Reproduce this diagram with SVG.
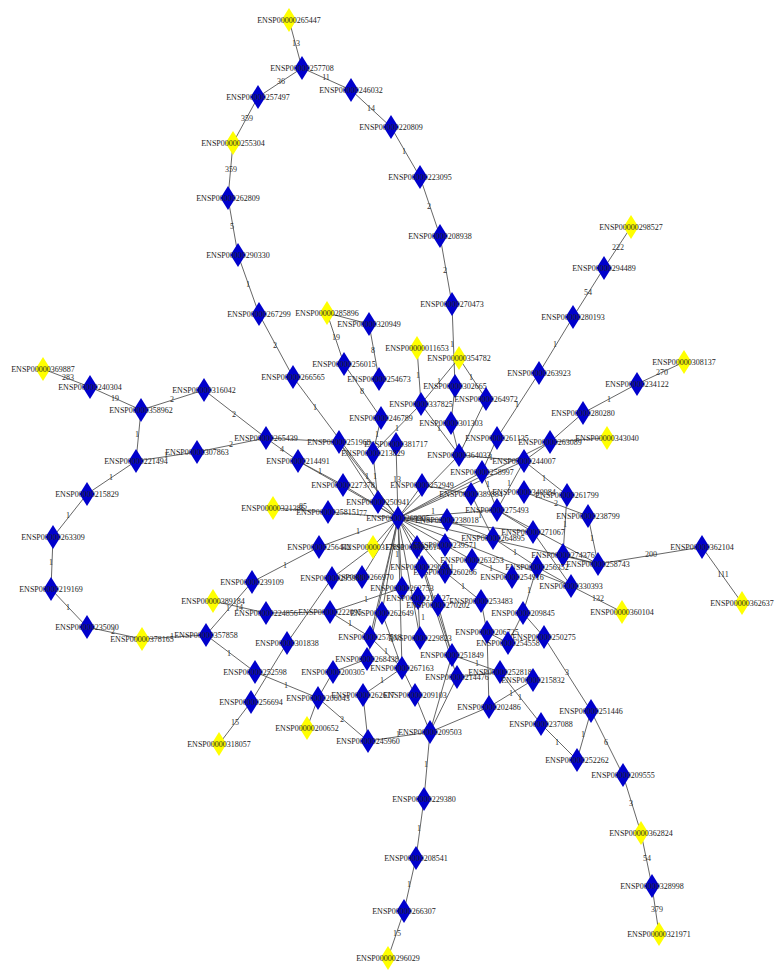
<svg xmlns="http://www.w3.org/2000/svg" xmlns:xlink="http://www.w3.org/1999/xlink" width="778" height="979" viewBox="0 0 778 979">
<style>
.e line{stroke:#555;stroke-width:0.9}
.el{font-family:"Liberation Serif",serif;font-size:8px;fill:#333;text-anchor:middle}
.b{fill:#0000cc}
.y{fill:#ffff00}
.n text{font-family:"Liberation Serif",serif;font-size:8px;fill:#222;text-anchor:middle}
</style>
<defs><path id="d" d="M0 -12L7.5 0L0 12L-7.5 0Z"/></defs>
<rect width="778" height="979" fill="#fff"/>
<g id="connectors" class="e">
<line x1="289" y1="20" x2="302" y2="68"/><line x1="302" y1="68" x2="258" y2="97"/><line x1="302" y1="68" x2="351" y2="90"/>
<line x1="258" y1="97" x2="233" y2="143"/><line x1="233" y1="143" x2="228" y2="198"/><line x1="228" y1="198" x2="238" y2="255"/>
<line x1="238" y1="255" x2="259" y2="314"/><line x1="259" y1="314" x2="293" y2="377"/><line x1="293" y1="377" x2="398" y2="518"/>
<line x1="351" y1="90" x2="391" y2="127"/><line x1="391" y1="127" x2="420" y2="177"/><line x1="420" y1="177" x2="440" y2="236"/>
<line x1="440" y1="236" x2="452" y2="304"/><line x1="452" y1="304" x2="455" y2="386"/><line x1="459" y1="358" x2="421" y2="404"/>
<line x1="459" y1="358" x2="486" y2="399"/><line x1="417" y1="348" x2="421" y2="404"/><line x1="327" y1="313" x2="369" y2="324"/>
<line x1="327" y1="313" x2="344" y2="364"/><line x1="344" y1="364" x2="381" y2="418"/><line x1="369" y1="324" x2="379" y2="379"/>
<line x1="631" y1="227" x2="604" y2="268"/><line x1="604" y1="268" x2="573" y2="317"/><line x1="573" y1="317" x2="539" y2="373"/>
<line x1="539" y1="373" x2="497" y2="438"/><line x1="684" y1="362" x2="637" y2="384"/><line x1="637" y1="384" x2="583" y2="413"/>
<line x1="583" y1="413" x2="550" y2="442"/><line x1="550" y1="442" x2="607" y2="438"/><line x1="43" y1="369" x2="90" y2="387"/>
<line x1="90" y1="387" x2="141" y2="410"/><line x1="141" y1="410" x2="204" y2="390"/><line x1="204" y1="390" x2="266" y2="438"/>
<line x1="141" y1="410" x2="136" y2="461"/><line x1="136" y1="461" x2="197" y2="452"/><line x1="197" y1="452" x2="266" y2="438"/>
<line x1="266" y1="438" x2="298" y2="461"/><line x1="266" y1="438" x2="339" y2="442"/><line x1="136" y1="461" x2="87" y2="494"/>
<line x1="87" y1="494" x2="53" y2="537"/><line x1="53" y1="537" x2="51" y2="589"/><line x1="51" y1="589" x2="87" y2="627"/>
<line x1="87" y1="627" x2="142" y2="639"/><line x1="142" y1="639" x2="206" y2="635"/><line x1="206" y1="635" x2="252" y2="582"/>
<line x1="213" y1="601" x2="266" y2="613"/><line x1="206" y1="635" x2="255" y2="672"/><line x1="255" y1="672" x2="318" y2="698"/>
<line x1="251" y1="702" x2="219" y2="744"/><line x1="251" y1="702" x2="287" y2="643"/><line x1="287" y1="643" x2="332" y2="578"/>
<line x1="252" y1="582" x2="319" y2="547"/><line x1="702" y1="547" x2="598" y2="564"/><line x1="702" y1="547" x2="742" y2="603"/>
<line x1="571" y1="586" x2="622" y2="612"/><line x1="588" y1="516" x2="598" y2="564"/><line x1="567" y1="495" x2="563" y2="555"/>
<line x1="567" y1="495" x2="524" y2="461"/><line x1="544" y1="637" x2="591" y2="711"/><line x1="591" y1="711" x2="577" y2="760"/>
<line x1="591" y1="711" x2="623" y2="775"/><line x1="541" y1="724" x2="577" y2="760"/><line x1="623" y1="775" x2="641" y2="833"/>
<line x1="641" y1="833" x2="652" y2="886"/><line x1="652" y1="886" x2="659" y2="934"/><line x1="430" y1="732" x2="368" y2="741"/>
<line x1="430" y1="732" x2="424" y2="799"/><line x1="424" y1="799" x2="416" y2="858"/><line x1="416" y1="858" x2="404" y2="911"/>
<line x1="404" y1="911" x2="388" y2="958"/><line x1="318" y1="698" x2="368" y2="741"/><line x1="307" y1="728" x2="318" y2="698"/>
<line x1="381" y1="418" x2="373" y2="453"/><line x1="421" y1="404" x2="373" y2="453"/><line x1="421" y1="404" x2="459" y2="455"/>
<line x1="455" y1="386" x2="451" y2="423"/><line x1="451" y1="423" x2="459" y2="455"/><line x1="486" y1="399" x2="459" y2="455"/>
<line x1="459" y1="455" x2="524" y2="461"/><line x1="550" y1="442" x2="524" y2="461"/><line x1="524" y1="461" x2="497" y2="510"/>
<line x1="482" y1="472" x2="497" y2="510"/><line x1="524" y1="492" x2="588" y2="516"/><line x1="471" y1="494" x2="493" y2="538"/>
<line x1="493" y1="538" x2="537" y2="567"/><line x1="472" y1="560" x2="512" y2="577"/><line x1="497" y1="510" x2="533" y2="532"/>
<line x1="533" y1="532" x2="571" y2="586"/><line x1="497" y1="510" x2="598" y2="564"/><line x1="537" y1="567" x2="571" y2="586"/>
<line x1="563" y1="555" x2="598" y2="564"/><line x1="445" y1="572" x2="481" y2="601"/><line x1="537" y1="567" x2="523" y2="613"/>
<line x1="523" y1="613" x2="544" y2="637"/><line x1="523" y1="613" x2="508" y2="643"/><line x1="481" y1="601" x2="487" y2="632"/>
<line x1="487" y1="632" x2="508" y2="643"/><line x1="487" y1="632" x2="489" y2="707"/><line x1="452" y1="655" x2="500" y2="672"/>
<line x1="533" y1="680" x2="489" y2="707"/><line x1="500" y1="672" x2="541" y2="724"/><line x1="457" y1="677" x2="500" y2="672"/>
<line x1="452" y1="655" x2="430" y2="732"/><line x1="457" y1="677" x2="430" y2="732"/><line x1="415" y1="695" x2="430" y2="732"/>
<line x1="489" y1="707" x2="430" y2="732"/><line x1="402" y1="668" x2="415" y2="695"/><line x1="370" y1="637" x2="402" y2="668"/>
<line x1="382" y1="613" x2="402" y2="668"/><line x1="402" y1="668" x2="363" y2="695"/><line x1="330" y1="612" x2="402" y2="588"/>
<line x1="330" y1="612" x2="370" y2="637"/><line x1="418" y1="598" x2="420" y2="638"/><line x1="398" y1="518" x2="402" y2="588"/>
<line x1="318" y1="698" x2="333" y2="672"/><line x1="333" y1="672" x2="367" y2="659"/><line x1="363" y1="695" x2="368" y2="741"/>
<line x1="266" y1="613" x2="330" y2="612"/><line x1="398" y1="518" x2="339" y2="442"/><line x1="398" y1="518" x2="298" y2="461"/>
<line x1="398" y1="518" x2="343" y2="485"/><line x1="398" y1="518" x2="378" y2="502"/><line x1="398" y1="518" x2="396" y2="444"/>
<line x1="373" y1="453" x2="378" y2="502"/><line x1="339" y1="442" x2="378" y2="502"/><line x1="398" y1="518" x2="328" y2="512"/>
<line x1="273" y1="508" x2="328" y2="512"/><line x1="298" y1="461" x2="343" y2="485"/><line x1="398" y1="518" x2="319" y2="547"/>
<line x1="398" y1="518" x2="459" y2="455"/><line x1="398" y1="518" x2="482" y2="472"/><line x1="398" y1="518" x2="524" y2="461"/>
<line x1="398" y1="518" x2="550" y2="442"/><line x1="398" y1="518" x2="497" y2="510"/><line x1="398" y1="518" x2="598" y2="564"/>
<line x1="398" y1="518" x2="571" y2="586"/><line x1="398" y1="518" x2="533" y2="532"/><line x1="398" y1="518" x2="447" y2="520"/>
<line x1="398" y1="518" x2="445" y2="545"/><line x1="398" y1="518" x2="445" y2="572"/><line x1="398" y1="518" x2="382" y2="613"/>
<line x1="398" y1="518" x2="370" y2="637"/><line x1="398" y1="518" x2="367" y2="659"/><line x1="398" y1="518" x2="402" y2="668"/>
<line x1="398" y1="518" x2="420" y2="638"/><line x1="398" y1="518" x2="422" y2="567"/><line x1="398" y1="518" x2="362" y2="577"/>
<line x1="398" y1="518" x2="373" y2="547"/><line x1="398" y1="518" x2="417" y2="547"/><line x1="398" y1="518" x2="422" y2="485"/>
<line x1="447" y1="520" x2="493" y2="538"/><line x1="445" y1="545" x2="472" y2="560"/><line x1="422" y1="485" x2="471" y2="494"/>
<line x1="417" y1="547" x2="452" y2="655"/><line x1="422" y1="567" x2="457" y2="677"/><line x1="438" y1="605" x2="452" y2="655"/>
<line x1="373" y1="547" x2="332" y2="578"/><line x1="497" y1="438" x2="482" y2="472"/>
<text class="el" x="296" y="46">13</text><text class="el" x="281" y="84">36</text><text class="el" x="326" y="80">11</text>
<text class="el" x="247" y="121">359</text><text class="el" x="231" y="172">359</text><text class="el" x="232" y="229">5</text>
<text class="el" x="248" y="287">1</text><text class="el" x="275" y="348">2</text><text class="el" x="315" y="410">1</text>
<text class="el" x="371" y="111">14</text><text class="el" x="404" y="154">1</text><text class="el" x="429" y="209">2</text>
<text class="el" x="445" y="273">2</text><text class="el" x="452" y="347">1</text><text class="el" x="439" y="384">1</text>
<text class="el" x="471" y="380">1</text><text class="el" x="418" y="378">1</text><text class="el" x="336" y="340">19</text>
<text class="el" x="362" y="394">8</text><text class="el" x="373" y="353">8</text><text class="el" x="618" y="250">222</text>
<text class="el" x="588" y="295">54</text><text class="el" x="555" y="347">1</text><text class="el" x="517" y="407">1</text>
<text class="el" x="662" y="375">270</text><text class="el" x="609" y="402">1</text><text class="el" x="68" y="380">283</text>
<text class="el" x="115" y="401">19</text><text class="el" x="172" y="402">2</text><text class="el" x="234" y="417">2</text>
<text class="el" x="137" y="437">1</text><text class="el" x="166" y="458">1</text><text class="el" x="231" y="447">2</text>
<text class="el" x="282" y="452">4</text><text class="el" x="111" y="480">1</text><text class="el" x="68" y="518">1</text>
<text class="el" x="51" y="565">1</text><text class="el" x="68" y="610">1</text><text class="el" x="113" y="634">2</text>
<text class="el" x="172" y="639">1</text><text class="el" x="228" y="611">1</text><text class="el" x="239" y="610">14</text>
<text class="el" x="229" y="656">1</text><text class="el" x="286" y="688">1</text><text class="el" x="235" y="725">15</text>
<text class="el" x="285" y="568">1</text><text class="el" x="651" y="557">200</text><text class="el" x="723" y="577">111</text>
<text class="el" x="598" y="601">132</text><text class="el" x="592" y="541">1</text><text class="el" x="565" y="527">1</text>
<text class="el" x="544" y="481">1</text><text class="el" x="567" y="675">3</text><text class="el" x="583" y="737">1</text>
<text class="el" x="606" y="745">6</text><text class="el" x="557" y="745">1</text><text class="el" x="631" y="806">3</text>
<text class="el" x="647" y="861">54</text><text class="el" x="657" y="912">379</text><text class="el" x="398" y="737">1</text>
<text class="el" x="426" y="767">1</text><text class="el" x="419" y="831">1</text><text class="el" x="409" y="887">1</text>
<text class="el" x="397" y="936">15</text><text class="el" x="342" y="722">2</text>
<text class="el" x="377" y="437">1</text><text class="el" x="397" y="431">1</text><text class="el" x="439" y="431">1</text>
<text class="el" x="491" y="460">1</text><text class="el" x="509" y="486">1</text><text class="el" x="488" y="487">1</text>
<text class="el" x="556" y="506">2</text><text class="el" x="480" y="518">1</text><text class="el" x="515" y="555">1</text>
<text class="el" x="491" y="571">1</text><text class="el" x="463" y="589">1</text><text class="el" x="529" y="593">1</text>
<text class="el" x="477" y="666">1</text><text class="el" x="511" y="696">1</text><text class="el" x="520" y="700">1</text>
<text class="el" x="386" y="654">1</text><text class="el" x="392" y="642">1</text><text class="el" x="382" y="683">1</text>
<text class="el" x="366" y="602">1</text><text class="el" x="350" y="626">1</text><text class="el" x="423" y="620">1</text>
<text class="el" x="397" y="557">1</text><text class="el" x="397" y="482">13</text><text class="el" x="375" y="479">1</text>
<text class="el" x="367" y="479">1</text><text class="el" x="363" y="516">77</text><text class="el" x="303" y="509">85</text>
<text class="el" x="320" y="474">1</text><text class="el" x="358" y="534">1</text><text class="el" x="433" y="514">1</text>
</g>
<g class="n">
<g id="n265447"><use xlink:href="#d" x="289" y="20" class="y"/><text x="289" y="23">ENSP00000265447</text></g>
<g id="n257708"><use xlink:href="#d" x="302" y="68" class="b"/><text x="302" y="71">ENSP00000257708</text></g>
<g id="n246032"><use xlink:href="#d" x="351" y="90" class="b"/><text x="351" y="93">ENSP00000246032</text></g>
<g id="n257497"><use xlink:href="#d" x="258" y="97" class="b"/><text x="258" y="100">ENSP00000257497</text></g>
<g id="n220809"><use xlink:href="#d" x="391" y="127" class="b"/><text x="391" y="130">ENSP00000220809</text></g>
<g id="n255304"><use xlink:href="#d" x="233" y="143" class="y"/><text x="233" y="146">ENSP00000255304</text></g>
<g id="n223095"><use xlink:href="#d" x="420" y="177" class="b"/><text x="420" y="180">ENSP00000223095</text></g>
<g id="n262809"><use xlink:href="#d" x="228" y="198" class="b"/><text x="228" y="201">ENSP00000262809</text></g>
<g id="n208938"><use xlink:href="#d" x="440" y="236" class="b"/><text x="440" y="239">ENSP00000208938</text></g>
<g id="n298527"><use xlink:href="#d" x="631" y="227" class="y"/><text x="631" y="230">ENSP00000298527</text></g>
<g id="n290330"><use xlink:href="#d" x="238" y="255" class="b"/><text x="238" y="258">ENSP00000290330</text></g>
<g id="n294489"><use xlink:href="#d" x="604" y="268" class="b"/><text x="604" y="271">ENSP00000294489</text></g>
<g id="n270473"><use xlink:href="#d" x="452" y="304" class="b"/><text x="452" y="307">ENSP00000270473</text></g>
<g id="n267299"><use xlink:href="#d" x="259" y="314" class="b"/><text x="259" y="317">ENSP00000267299</text></g>
<g id="n285896"><use xlink:href="#d" x="327" y="313" class="y"/><text x="327" y="316">ENSP00000285896</text></g>
<g id="n320949"><use xlink:href="#d" x="369" y="324" class="b"/><text x="369" y="327">ENSP00000320949</text></g>
<g id="n280193"><use xlink:href="#d" x="573" y="317" class="b"/><text x="573" y="320">ENSP00000280193</text></g>
<g id="n011653"><use xlink:href="#d" x="417" y="348" class="y"/><text x="417" y="351">ENSP00000011653</text></g>
<g id="n354782"><use xlink:href="#d" x="459" y="358" class="y"/><text x="459" y="361">ENSP00000354782</text></g>
<g id="n308137"><use xlink:href="#d" x="684" y="362" class="y"/><text x="684" y="365">ENSP00000308137</text></g>
<g id="n369887"><use xlink:href="#d" x="43" y="369" class="y"/><text x="43" y="372">ENSP00000369887</text></g>
<g id="n256015"><use xlink:href="#d" x="344" y="364" class="b"/><text x="344" y="367">ENSP00000256015</text></g>
<g id="n263923"><use xlink:href="#d" x="539" y="373" class="b"/><text x="539" y="376">ENSP00000263923</text></g>
<g id="n266565"><use xlink:href="#d" x="293" y="377" class="b"/><text x="293" y="380">ENSP00000266565</text></g>
<g id="n254673"><use xlink:href="#d" x="379" y="379" class="b"/><text x="379" y="382">ENSP00000254673</text></g>
<g id="n234122"><use xlink:href="#d" x="637" y="384" class="b"/><text x="637" y="387">ENSP00000234122</text></g>
<g id="n240304"><use xlink:href="#d" x="90" y="387" class="b"/><text x="90" y="390">ENSP00000240304</text></g>
<g id="n316042"><use xlink:href="#d" x="204" y="390" class="b"/><text x="204" y="393">ENSP00000316042</text></g>
<g id="n302665"><use xlink:href="#d" x="455" y="386" class="b"/><text x="455" y="389">ENSP00000302665</text></g>
<g id="n264972"><use xlink:href="#d" x="486" y="399" class="b"/><text x="486" y="402">ENSP00000264972</text></g>
<g id="n337825"><use xlink:href="#d" x="421" y="404" class="b"/><text x="421" y="407">ENSP00000337825</text></g>
<g id="n358962"><use xlink:href="#d" x="141" y="410" class="b"/><text x="141" y="413">ENSP00000358962</text></g>
<g id="n280280"><use xlink:href="#d" x="583" y="413" class="b"/><text x="583" y="416">ENSP00000280280</text></g>
<g id="n246789"><use xlink:href="#d" x="381" y="418" class="b"/><text x="381" y="421">ENSP00000246789</text></g>
<g id="n301303"><use xlink:href="#d" x="451" y="423" class="b"/><text x="451" y="426">ENSP00000301303</text></g>
<g id="n343040"><use xlink:href="#d" x="607" y="438" class="y"/><text x="607" y="441">ENSP00000343040</text></g>
<g id="n265439"><use xlink:href="#d" x="266" y="438" class="b"/><text x="266" y="441">ENSP00000265439</text></g>
<g id="n251968"><use xlink:href="#d" x="339" y="442" class="b"/><text x="339" y="445">ENSP00000251968</text></g>
<g id="n381717"><use xlink:href="#d" x="396" y="444" class="b"/><text x="396" y="447">ENSP00000381717</text></g>
<g id="n261135"><use xlink:href="#d" x="497" y="438" class="b"/><text x="497" y="441">ENSP00000261135</text></g>
<g id="n263089"><use xlink:href="#d" x="550" y="442" class="b"/><text x="550" y="445">ENSP00000263089</text></g>
<g id="n307863"><use xlink:href="#d" x="197" y="452" class="b"/><text x="197" y="455">ENSP00000307863</text></g>
<g id="n214491"><use xlink:href="#d" x="298" y="461" class="b"/><text x="298" y="464">ENSP00000214491</text></g>
<g id="n221494"><use xlink:href="#d" x="136" y="461" class="b"/><text x="136" y="464">ENSP00000221494</text></g>
<g id="n213829"><use xlink:href="#d" x="373" y="453" class="b"/><text x="373" y="456">ENSP00000213829</text></g>
<g id="n364033"><use xlink:href="#d" x="459" y="455" class="b"/><text x="459" y="458">ENSP00000364033</text></g>
<g id="n244007"><use xlink:href="#d" x="524" y="461" class="b"/><text x="524" y="464">ENSP00000244007</text></g>
<g id="n258997"><use xlink:href="#d" x="482" y="472" class="b"/><text x="482" y="475">ENSP00000258997</text></g>
<g id="n227378"><use xlink:href="#d" x="343" y="485" class="b"/><text x="343" y="488">ENSP00000227378</text></g>
<g id="n252949"><use xlink:href="#d" x="422" y="485" class="b"/><text x="422" y="488">ENSP00000252949</text></g>
<g id="n215829"><use xlink:href="#d" x="87" y="494" class="b"/><text x="87" y="497">ENSP00000215829</text></g>
<g id="n261799"><use xlink:href="#d" x="567" y="495" class="b"/><text x="567" y="498">ENSP00000261799</text></g>
<g id="n340984"><use xlink:href="#d" x="524" y="492" class="b"/><text x="524" y="495">ENSP00000340984</text></g>
<g id="n389884"><use xlink:href="#d" x="471" y="494" class="b"/><text x="471" y="497">ENSP00000389884</text></g>
<g id="n250941"><use xlink:href="#d" x="378" y="502" class="b"/><text x="378" y="505">ENSP00000250941</text></g>
<g id="n275493"><use xlink:href="#d" x="497" y="510" class="b"/><text x="497" y="513">ENSP00000275493</text></g>
<g id="n238799"><use xlink:href="#d" x="588" y="516" class="b"/><text x="588" y="519">ENSP00000238799</text></g>
<g id="n321386"><use xlink:href="#d" x="273" y="508" class="y"/><text x="273" y="511">ENSP00000321386</text></g>
<g id="n258151"><use xlink:href="#d" x="328" y="512" class="b"/><text x="328" y="515">ENSP00000258151</text></g>
<g id="n269305"><use xlink:href="#d" x="398" y="518" class="b"/><text x="398" y="521">ENSP00000269305</text></g>
<g id="n238018"><use xlink:href="#d" x="447" y="520" class="b"/><text x="447" y="523">ENSP00000238018</text></g>
<g id="n271067"><use xlink:href="#d" x="533" y="532" class="b"/><text x="533" y="535">ENSP00000271067</text></g>
<g id="n264895"><use xlink:href="#d" x="493" y="538" class="b"/><text x="493" y="541">ENSP00000264895</text></g>
<g id="n263309"><use xlink:href="#d" x="53" y="537" class="b"/><text x="53" y="540">ENSP00000263309</text></g>
<g id="n256442"><use xlink:href="#d" x="319" y="547" class="b"/><text x="319" y="550">ENSP00000256442</text></g>
<g id="n317891"><use xlink:href="#d" x="373" y="547" class="y"/><text x="373" y="550">ENSP00000317891</text></g>
<g id="n261437"><use xlink:href="#d" x="417" y="547" class="b"/><text x="417" y="550">ENSP00000261437</text></g>
<g id="n239571"><use xlink:href="#d" x="445" y="545" class="b"/><text x="445" y="548">ENSP00000239571</text></g>
<g id="n274376"><use xlink:href="#d" x="563" y="555" class="b"/><text x="563" y="558">ENSP00000274376</text></g>
<g id="n263253"><use xlink:href="#d" x="472" y="560" class="b"/><text x="472" y="563">ENSP00000263253</text></g>
<g id="n258743"><use xlink:href="#d" x="598" y="564" class="b"/><text x="598" y="567">ENSP00000258743</text></g>
<g id="n362104"><use xlink:href="#d" x="702" y="547" class="b"/><text x="702" y="550">ENSP00000362104</text></g>
<g id="n260266"><use xlink:href="#d" x="445" y="572" class="b"/><text x="445" y="575">ENSP00000260266</text></g>
<g id="n256352"><use xlink:href="#d" x="537" y="567" class="b"/><text x="537" y="570">ENSP00000256352</text></g>
<g id="n254916"><use xlink:href="#d" x="512" y="577" class="b"/><text x="512" y="580">ENSP00000254916</text></g>
<g id="n330393"><use xlink:href="#d" x="571" y="586" class="b"/><text x="571" y="589">ENSP00000330393</text></g>
<g id="n290541"><use xlink:href="#d" x="422" y="567" class="b"/><text x="422" y="570">ENSP00000290541</text></g>
<g id="n266970"><use xlink:href="#d" x="362" y="577" class="b"/><text x="362" y="580">ENSP00000266970</text></g>
<g id="n295980"><use xlink:href="#d" x="332" y="578" class="b"/><text x="332" y="581">ENSP00000295980</text></g>
<g id="n239109"><use xlink:href="#d" x="252" y="582" class="b"/><text x="252" y="585">ENSP00000239109</text></g>
<g id="n219169"><use xlink:href="#d" x="51" y="589" class="b"/><text x="51" y="592">ENSP00000219169</text></g>
<g id="n262753"><use xlink:href="#d" x="402" y="588" class="b"/><text x="402" y="591">ENSP00000262753</text></g>
<g id="n219127"><use xlink:href="#d" x="418" y="598" class="b"/><text x="418" y="601">ENSP00000219127</text></g>
<g id="n270202"><use xlink:href="#d" x="438" y="605" class="b"/><text x="438" y="608">ENSP00000270202</text></g>
<g id="n253483"><use xlink:href="#d" x="481" y="601" class="b"/><text x="481" y="604">ENSP00000253483</text></g>
<g id="n389184"><use xlink:href="#d" x="213" y="601" class="y"/><text x="213" y="604">ENSP00000389184</text></g>
<g id="n360104"><use xlink:href="#d" x="622" y="612" class="y"/><text x="622" y="615">ENSP00000360104</text></g>
<g id="n362637"><use xlink:href="#d" x="742" y="603" class="y"/><text x="742" y="606">ENSP00000362637</text></g>
<g id="n235090"><use xlink:href="#d" x="87" y="627" class="b"/><text x="87" y="630">ENSP00000235090</text></g>
<g id="n224856"><use xlink:href="#d" x="266" y="613" class="b"/><text x="266" y="616">ENSP00000224856</text></g>
<g id="n222095"><use xlink:href="#d" x="330" y="612" class="b"/><text x="330" y="615">ENSP00000222095</text></g>
<g id="n262649"><use xlink:href="#d" x="382" y="613" class="b"/><text x="382" y="616">ENSP00000262649</text></g>
<g id="n209845"><use xlink:href="#d" x="523" y="613" class="b"/><text x="523" y="616">ENSP00000209845</text></g>
<g id="n357858"><use xlink:href="#d" x="206" y="635" class="b"/><text x="206" y="638">ENSP00000357858</text></g>
<g id="n378165"><use xlink:href="#d" x="142" y="639" class="y"/><text x="142" y="642">ENSP00000378165</text></g>
<g id="n301838"><use xlink:href="#d" x="287" y="643" class="b"/><text x="287" y="646">ENSP00000301838</text></g>
<g id="n257518"><use xlink:href="#d" x="370" y="637" class="b"/><text x="370" y="640">ENSP00000257518</text></g>
<g id="n229823"><use xlink:href="#d" x="420" y="638" class="b"/><text x="420" y="641">ENSP00000229823</text></g>
<g id="n206725"><use xlink:href="#d" x="487" y="632" class="b"/><text x="487" y="635">ENSP00000206725</text></g>
<g id="n250275"><use xlink:href="#d" x="544" y="637" class="b"/><text x="544" y="640">ENSP00000250275</text></g>
<g id="n254558"><use xlink:href="#d" x="508" y="643" class="b"/><text x="508" y="646">ENSP00000254558</text></g>
<g id="n251849"><use xlink:href="#d" x="452" y="655" class="b"/><text x="452" y="658">ENSP00000251849</text></g>
<g id="n268438"><use xlink:href="#d" x="367" y="659" class="b"/><text x="367" y="662">ENSP00000268438</text></g>
<g id="n267163"><use xlink:href="#d" x="402" y="668" class="b"/><text x="402" y="671">ENSP00000267163</text></g>
<g id="n252598"><use xlink:href="#d" x="255" y="672" class="b"/><text x="255" y="675">ENSP00000252598</text></g>
<g id="n200305"><use xlink:href="#d" x="333" y="672" class="b"/><text x="333" y="675">ENSP00000200305</text></g>
<g id="n214476"><use xlink:href="#d" x="457" y="677" class="b"/><text x="457" y="680">ENSP00000214476</text></g>
<g id="n252818"><use xlink:href="#d" x="500" y="672" class="b"/><text x="500" y="675">ENSP00000252818</text></g>
<g id="n215832"><use xlink:href="#d" x="533" y="680" class="b"/><text x="533" y="683">ENSP00000215832</text></g>
<g id="n262617"><use xlink:href="#d" x="363" y="695" class="b"/><text x="363" y="698">ENSP00000262617</text></g>
<g id="n209103"><use xlink:href="#d" x="415" y="695" class="b"/><text x="415" y="698">ENSP00000209103</text></g>
<g id="n206043"><use xlink:href="#d" x="318" y="698" class="b"/><text x="318" y="701">ENSP00000206043</text></g>
<g id="n256694"><use xlink:href="#d" x="251" y="702" class="b"/><text x="251" y="705">ENSP00000256694</text></g>
<g id="n202486"><use xlink:href="#d" x="489" y="707" class="b"/><text x="489" y="710">ENSP00000202486</text></g>
<g id="n251446"><use xlink:href="#d" x="591" y="711" class="b"/><text x="591" y="714">ENSP00000251446</text></g>
<g id="n237088"><use xlink:href="#d" x="541" y="724" class="b"/><text x="541" y="727">ENSP00000237088</text></g>
<g id="n200652"><use xlink:href="#d" x="307" y="728" class="y"/><text x="307" y="731">ENSP00000200652</text></g>
<g id="n209503"><use xlink:href="#d" x="430" y="732" class="b"/><text x="430" y="735">ENSP00000209503</text></g>
<g id="n245960"><use xlink:href="#d" x="368" y="741" class="b"/><text x="368" y="744">ENSP00000245960</text></g>
<g id="n318057"><use xlink:href="#d" x="219" y="744" class="y"/><text x="219" y="747">ENSP00000318057</text></g>
<g id="n252262"><use xlink:href="#d" x="577" y="760" class="b"/><text x="577" y="763">ENSP00000252262</text></g>
<g id="n209555"><use xlink:href="#d" x="623" y="775" class="b"/><text x="623" y="778">ENSP00000209555</text></g>
<g id="n229380"><use xlink:href="#d" x="424" y="799" class="b"/><text x="424" y="802">ENSP00000229380</text></g>
<g id="n362824"><use xlink:href="#d" x="641" y="833" class="y"/><text x="641" y="836">ENSP00000362824</text></g>
<g id="n208541"><use xlink:href="#d" x="416" y="858" class="b"/><text x="416" y="861">ENSP00000208541</text></g>
<g id="n328998"><use xlink:href="#d" x="652" y="886" class="b"/><text x="652" y="889">ENSP00000328998</text></g>
<g id="n266307"><use xlink:href="#d" x="404" y="911" class="b"/><text x="404" y="914">ENSP00000266307</text></g>
<g id="n321971"><use xlink:href="#d" x="659" y="934" class="y"/><text x="659" y="937">ENSP00000321971</text></g>
<g id="n296029"><use xlink:href="#d" x="388" y="958" class="y"/><text x="388" y="961">ENSP00000296029</text></g>
</g>
</svg>
